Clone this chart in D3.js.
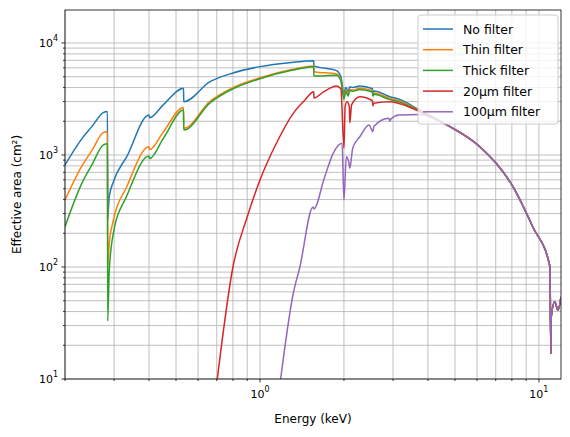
<!DOCTYPE html>
<html>
<head>
<script src="https://d3js.org/d3.v7.min.js"></script>
<style>
body { margin: 0; background: #fff; }
text { font-family: "DejaVu Sans", sans-serif; }
</style>
</head>
<body>
<svg id="chart" width="570" height="437"></svg>
<script>
// values
const tailE = [4.8, 6.14, 8.07, 9.5, 10.95, 11.04, 11.06, 11.4, 11.7, 12.0];
const tailA = [1790, 1185, 521, 229, 101, 17, 35, 49, 41, 54];

const lowE = [0.2, 0.23, 0.25, 0.274, 0.284, 0.2845, 0.288, 0.298, 0.333, 0.4, 0.402, 0.45, 0.532, 0.533, 0.662, 0.8, 1.0, 1.3, 1.559, 1.56, 1.88, 1.95, 2.0, 2.03, 2.07, 2.1, 2.15, 2.28, 2.53, 2.54, 2.56, 2.92, 3.15, 3.74];
const noFilterA = [815, 1400, 1800, 2390, 2450, 264, 422, 575, 966, 2275, 2150, 2800, 3945, 2990, 4510, 5400, 6150, 6700, 6950, 6240, 5660, 5000, 3510, 4000, 3700, 4070, 4000, 4130, 3900, 3600, 3730, 3310, 3140, 2520];
const thinA = [396, 800, 1100, 1585, 1620, 100, 160, 260, 521, 1185, 1120, 1600, 2660, 1730, 3020, 4000, 4900, 5800, 6240, 5540, 5290, 4700, 3310, 3800, 3500, 3850, 3800, 3950, 3750, 3450, 3580, 3200, 3050, 2480];
const thickA = [229, 560, 820, 1227, 1260, 33, 90, 200, 430, 977, 930, 1400, 2520, 1670, 2920, 3900, 4800, 5700, 6150, 5070, 5150, 4600, 3150, 3700, 3350, 3750, 3700, 3850, 3650, 3350, 3480, 3120, 2980, 2450];

const redE = [0.703, 0.8, 0.9, 1.0, 1.15, 1.316, 1.45, 1.559, 1.56, 1.7, 1.88, 1.95, 2.0, 2.02, 2.05, 2.09, 2.1, 2.13, 2.28, 2.53, 2.54, 2.56, 2.92, 3.15, 3.74, 4.3];
const redA = [10, 100, 280, 598, 1300, 2355, 3100, 3675, 3225, 3700, 4130, 3900, 1150, 2700, 2990, 2700, 1940, 2800, 3310, 3050, 2750, 2900, 2990, 2880, 2440, 2050];

const purpleE = [1.186, 1.316, 1.39, 1.55, 1.56, 1.7, 1.83, 1.97, 2.0, 2.04, 2.08, 2.1, 2.15, 2.28, 2.46, 2.54, 2.56, 2.9, 2.92, 2.95, 3.15, 3.74, 4.42];
const purpleA = [10, 58, 100, 344, 330, 620, 1035, 1270, 396, 966, 870, 760, 1150, 1455, 1855, 1615, 1800, 2125, 2000, 2100, 2275, 2300, 1983];

const names = ["No filter", "Thin filter", "Thick filter", "20\u00b5m filter", "100\u00b5m filter"];
const colors = ["#1f77b4", "#ff7f0e", "#2ca02c", "#d62728", "#9467bd"];

const xTicks = [1, 10];
const yTicks = [10, 100, 1000, 10000];

function zipSeries(es, as) {
  return es.map((e, i) => [e, as[i]]).concat(tailE.map((e, i) => [e, tailA[i]]));
}
const series = [
  zipSeries(lowE, noFilterA),
  zipSeries(lowE, thinA),
  zipSeries(lowE, thickA),
  zipSeries(redE, redA),
  zipSeries(purpleE, purpleA)
];

const L = 65, R = 561, T = 10, B = 379;
const svg = d3.select("#chart");

const x = d3.scaleLog().domain([0.2, 12]).range([L, R]);
const y = d3.scaleLog().domain([10, 19700]).range([B, T]);

// grid (major + minor)
const xGrid = [];
[0.1, 1, 10].forEach(d => { for (let k = 1; k < 10; k++) { const v = d * k; if (v >= 0.2 && v <= 12) xGrid.push(v); } });
const yGrid = [];
[10, 100, 1000, 10000].forEach(d => { for (let k = 1; k < 10; k++) { const v = d * k; if (v >= 10 && v <= 19700) yGrid.push(v); } });

const grid = svg.append("g").attr("stroke", "#b0b0b0").attr("stroke-width", 0.8);
grid.selectAll(".gx").data(xGrid).enter().append("line")
  .attr("x1", d => x(d)).attr("x2", d => x(d)).attr("y1", T).attr("y2", B);
grid.selectAll(".gy").data(yGrid).enter().append("line")
  .attr("y1", d => y(d)).attr("y2", d => y(d)).attr("x1", L).attr("x2", R);

svg.append("clipPath").attr("id", "clip").append("rect")
  .attr("x", L).attr("y", T).attr("width", R - L).attr("height", B - T);

const line = d3.line().x(d => x(d[0])).y(d => y(d[1])).curve(d3.curveMonotoneX);
svg.append("g").attr("clip-path", "url(#clip)")
  .selectAll("path").data(series).enter().append("path")
  .attr("d", line).attr("fill", "none")
  .attr("stroke", (d, i) => colors[i]).attr("stroke-width", 1.5)
  .attr("stroke-linejoin", "round");

// frame
svg.append("rect").attr("x", L).attr("y", T).attr("width", R - L).attr("height", B - T)
  .attr("fill", "none").attr("stroke", "#000").attr("stroke-width", 0.8);

// ticks
const tk = svg.append("g").attr("stroke", "#000").attr("stroke-width", 0.8);
tk.selectAll(".mx").data(xGrid).enter().append("line")
  .attr("x1", d => x(d)).attr("x2", d => x(d)).attr("y1", B)
  .attr("y2", d => xTicks.includes(d) ? B + 3.5 : B + 2);
tk.selectAll(".my").data(yGrid).enter().append("line")
  .attr("y1", d => y(d)).attr("y2", d => y(d)).attr("x1", L)
  .attr("x2", d => yTicks.includes(d) ? L - 3.5 : L - 2);

function powLabel(sel) {
  sel.append("tspan").text("10");
  sel.append("tspan").attr("dy", -6).attr("font-size", 8).text(d => Math.round(Math.log10(d)));
}
svg.selectAll(".xl").data(xTicks).enter().append("text")
  .attr("x", d => x(d)).attr("y", B + 19).attr("text-anchor", "middle")
  .attr("font-size", 11).call(powLabel);
svg.selectAll(".yl").data(yTicks).enter().append("text")
  .attr("x", L - 7).attr("y", d => y(d) + 4).attr("text-anchor", "end")
  .attr("font-size", 11).call(powLabel);

svg.append("text").attr("x", (L + R) / 2).attr("y", 423).attr("text-anchor", "middle")
  .attr("font-size", 12).text("Energy (keV)");
svg.append("text").attr("transform", `translate(21,${(T + B) / 2}) rotate(-90)`)
  .attr("text-anchor", "middle").attr("font-size", 12).text("Effective area (cm\u00b2)");

// legend
const lg = svg.append("g");
lg.append("rect").attr("x", 418).attr("y", 15).attr("width", 140).attr("height", 109).attr("rx", 3)
  .attr("fill", "#fff").attr("fill-opacity", 0.8).attr("stroke", "#ccc");
const item = lg.selectAll(".it").data(names).enter().append("g")
  .attr("transform", (d, i) => `translate(0,${29 + i * 20.7})`);
item.append("line").attr("x1", 423).attr("x2", 453).attr("stroke", (d, i) => colors[i]).attr("stroke-width", 1.5);
item.append("text").attr("x", 463).attr("y", 4.5).attr("font-size", 12.5).text(d => d);
</script>
</body>
</html>
